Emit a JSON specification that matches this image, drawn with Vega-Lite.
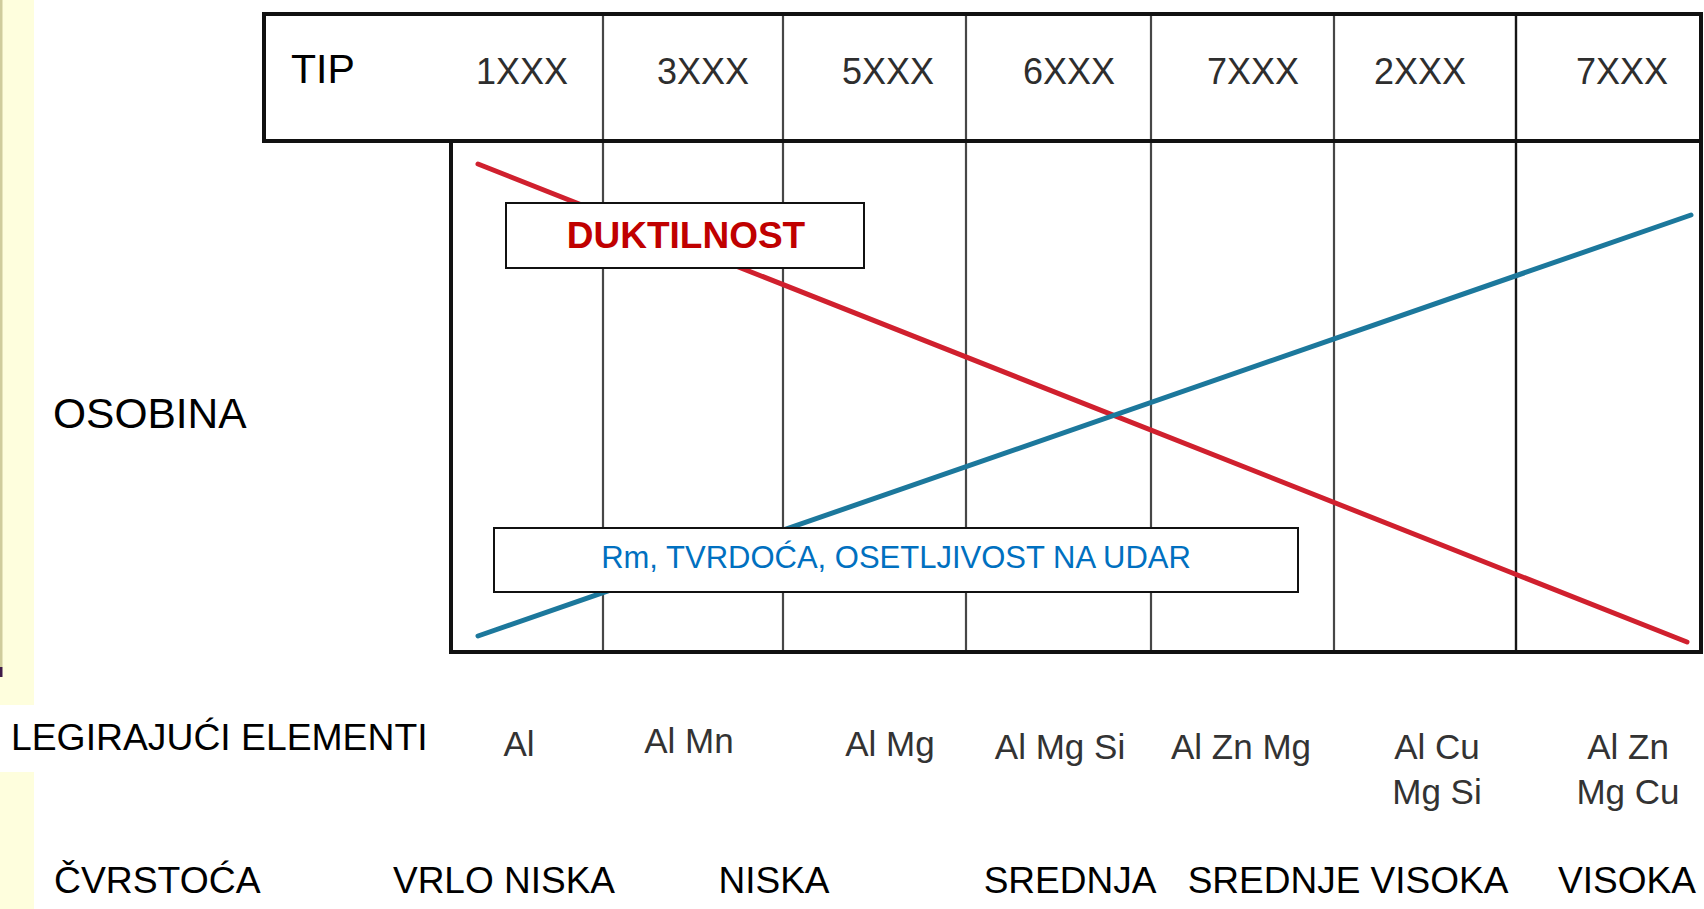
{
  "$schema": "https://vega.github.io/schema/vega-lite/v6.json",
  "width": 1704,
  "height": 909,
  "autosize": {"type": "fit", "contains": "padding"},
  "padding": 0,
  "background": "white",
  "config": {"view": {"stroke": null}},
  "datasets": {
    "strip": [
      {"part": "strip", "x0": 0, "x1": 34, "y0": 0, "y1": 705},
      {"part": "strip", "x0": 0, "x1": 34, "y0": 772, "y1": 909}
    ],
    "edge": [
      {"part": "edge", "x0": 0, "x1": 2.5, "y0": 0, "y1": 667}
    ],
    "mark": [
      {"part": "mark", "x0": 0, "x1": 2.5, "y0": 667, "y1": 677}
    ],
    "frames": [
      {"part": "TIP header", "x0": 264, "x1": 1701, "y0": 14, "y1": 141},
      {"part": "body", "x0": 451, "x1": 1701, "y0": 141, "y1": 652}
    ],
    "dividers": [
      {"x": 603, "y0": 14, "y1": 652},
      {"x": 783, "y0": 14, "y1": 652},
      {"x": 966, "y0": 14, "y1": 652},
      {"x": 1151, "y0": 14, "y1": 652},
      {"x": 1334, "y0": 14, "y1": 652}
    ],
    "lastDivider": [
      {"x": 1516, "y0": 14, "y1": 652}
    ],
    "trends": [
      {"series": "DUKTILNOST", "x": 478, "y": 164},
      {"series": "DUKTILNOST", "x": 1687, "y": 642},
      {"series": "Rm, TVRDOĆA, OSETLJIVOST NA UDAR", "x": 478, "y": 636},
      {"series": "Rm, TVRDOĆA, OSETLJIVOST NA UDAR", "x": 1691, "y": 215}
    ],
    "boxes": [
      {"part": "DUKTILNOST", "x0": 506, "x1": 864, "y0": 203, "y1": 268},
      {"part": "Rm", "x0": 494, "x1": 1298, "y0": 528, "y1": 592}
    ],
    "labels": [
      {"group": "row", "text": "TIP", "x": 291, "y": 71},
      {"group": "side", "text": "OSOBINA", "x": 53, "y": 415},
      {"group": "row2", "text": "LEGIRAJUĆI ELEMENTI", "x": 11, "y": 739},
      {"group": "row3", "text": "ČVRSTOĆA", "x": 54, "y": 882},
      {"group": "type", "text": "1XXX", "x": 522, "y": 73},
      {"group": "type", "text": "3XXX", "x": 703, "y": 73},
      {"group": "type", "text": "5XXX", "x": 888, "y": 73},
      {"group": "type", "text": "6XXX", "x": 1069, "y": 73},
      {"group": "type", "text": "7XXX", "x": 1253, "y": 73},
      {"group": "type", "text": "2XXX", "x": 1420, "y": 73},
      {"group": "type", "text": "7XXX", "x": 1622, "y": 73},
      {"group": "element", "text": "Al", "x": 519, "y": 745},
      {"group": "element", "text": "Al Mn", "x": 689, "y": 742},
      {"group": "element", "text": "Al Mg", "x": 890, "y": 745},
      {"group": "element", "text": "Al Mg Si", "x": 1060, "y": 748},
      {"group": "element", "text": "Al Zn Mg", "x": 1241, "y": 748},
      {"group": "element", "text": "Al Cu", "x": 1437, "y": 748},
      {"group": "element", "text": "Mg Si", "x": 1437, "y": 793},
      {"group": "element", "text": "Al Zn", "x": 1628, "y": 748},
      {"group": "element", "text": "Mg Cu", "x": 1628, "y": 793},
      {"group": "strength", "text": "VRLO NISKA", "x": 504, "y": 882},
      {"group": "strength", "text": "NISKA", "x": 774, "y": 882},
      {"group": "strength", "text": "SREDNJA", "x": 1070, "y": 882},
      {"group": "strength", "text": "SREDNJE VISOKA", "x": 1348, "y": 882},
      {"group": "strength", "text": "VISOKA", "x": 1627, "y": 882},
      {"group": "duct", "text": "DUKTILNOST", "x": 686, "y": 237},
      {"group": "rm", "text": "Rm, TVRDOĆA, OSETLJIVOST NA UDAR", "x": 896, "y": 559}
    ]
  },
  "encoding": {
    "x": {"field": "x0", "type": "quantitative", "scale": {"domain": [0, 1704], "nice": false, "zero": false}, "axis": null},
    "y": {"field": "y0", "type": "quantitative", "scale": {"domain": [0, 909], "nice": false, "zero": false, "reverse": true}, "axis": null}
  },
  "layer": [
    {
      "data": {"name": "strip"},
      "mark": {"type": "rect", "fill": "#FEFEDD"},
      "encoding": {"x2": {"field": "x1"}, "y2": {"field": "y1"}}
    },
    {
      "data": {"name": "edge"},
      "mark": {"type": "rect", "fill": "#CFCC9C"},
      "encoding": {"x2": {"field": "x1"}, "y2": {"field": "y1"}}
    },
    {
      "data": {"name": "mark"},
      "mark": {"type": "rect", "fill": "#3E1A48"},
      "encoding": {"x2": {"field": "x1"}, "y2": {"field": "y1"}}
    },
    {
      "data": {"name": "dividers"},
      "mark": {"type": "rule", "stroke": "#474747", "strokeWidth": 2.2},
      "encoding": {"x": {"field": "x", "type": "quantitative"}, "y2": {"field": "y1"}}
    },
    {
      "data": {"name": "lastDivider"},
      "mark": {"type": "rule", "stroke": "#151515", "strokeWidth": 2.4},
      "encoding": {"x": {"field": "x", "type": "quantitative"}, "y2": {"field": "y1"}}
    },
    {
      "data": {"name": "trends"},
      "mark": {"type": "line", "strokeWidth": 5, "strokeCap": "round"},
      "encoding": {
        "x": {"field": "x", "type": "quantitative"},
        "y": {"field": "y", "type": "quantitative"},
        "color": {"field": "series", "type": "nominal", "scale": {"domain": ["DUKTILNOST", "Rm, TVRDOĆA, OSETLJIVOST NA UDAR"], "range": ["#D0202E", "#1C789C"]}, "legend": null}
      }
    },
    {
      "data": {"name": "frames"},
      "mark": {"type": "rect", "fillOpacity": 0, "stroke": "#111111", "strokeWidth": 4},
      "encoding": {"x2": {"field": "x1"}, "y2": {"field": "y1"}}
    },
    {
      "data": {"name": "boxes"},
      "mark": {"type": "rect", "fill": "white", "stroke": "#111111", "strokeWidth": 2},
      "encoding": {"x2": {"field": "x1"}, "y2": {"field": "y1"}}
    },
    {
      "data": {"name": "labels"},
      "transform": [{"filter": "datum.group === 'row'"}],
      "mark": {"type": "text", "align": "left", "baseline": "middle", "font": "Liberation Sans", "fontSize": 41, "color": "#000000"},
      "encoding": {"x": {"field": "x", "type": "quantitative"}, "y": {"field": "y", "type": "quantitative"}, "text": {"field": "text"}}
    },
    {
      "data": {"name": "labels"},
      "transform": [{"filter": "datum.group === 'side'"}],
      "mark": {"type": "text", "align": "left", "baseline": "middle", "font": "Liberation Sans", "fontSize": 42.5, "color": "#000000"},
      "encoding": {"x": {"field": "x", "type": "quantitative"}, "y": {"field": "y", "type": "quantitative"}, "text": {"field": "text"}}
    },
    {
      "data": {"name": "labels"},
      "transform": [{"filter": "datum.group === 'row2' || datum.group === 'row3'"}],
      "mark": {"type": "text", "align": "left", "baseline": "middle", "font": "Liberation Sans", "fontSize": 37.3, "color": "#000000"},
      "encoding": {"x": {"field": "x", "type": "quantitative"}, "y": {"field": "y", "type": "quantitative"}, "text": {"field": "text"}}
    },
    {
      "data": {"name": "labels"},
      "transform": [{"filter": "datum.group === 'strength'"}],
      "mark": {"type": "text", "align": "center", "baseline": "middle", "font": "Liberation Sans", "fontSize": 37, "color": "#000000"},
      "encoding": {"x": {"field": "x", "type": "quantitative"}, "y": {"field": "y", "type": "quantitative"}, "text": {"field": "text"}}
    },
    {
      "data": {"name": "labels"},
      "transform": [{"filter": "datum.group === 'type'"}],
      "mark": {"type": "text", "align": "center", "baseline": "middle", "font": "Liberation Sans", "fontSize": 36, "color": "#2e2e2e"},
      "encoding": {"x": {"field": "x", "type": "quantitative"}, "y": {"field": "y", "type": "quantitative"}, "text": {"field": "text"}}
    },
    {
      "data": {"name": "labels"},
      "transform": [{"filter": "datum.group === 'element'"}],
      "mark": {"type": "text", "align": "center", "baseline": "middle", "font": "Liberation Sans", "fontSize": 35, "color": "#333333"},
      "encoding": {"x": {"field": "x", "type": "quantitative"}, "y": {"field": "y", "type": "quantitative"}, "text": {"field": "text"}}
    },
    {
      "data": {"name": "labels"},
      "transform": [{"filter": "datum.group === 'duct'"}],
      "mark": {"type": "text", "align": "center", "baseline": "middle", "font": "Liberation Sans", "fontSize": 37, "fontWeight": "bold", "color": "#C00000"},
      "encoding": {"x": {"field": "x", "type": "quantitative"}, "y": {"field": "y", "type": "quantitative"}, "text": {"field": "text"}}
    },
    {
      "data": {"name": "labels"},
      "transform": [{"filter": "datum.group === 'rm'"}],
      "mark": {"type": "text", "align": "center", "baseline": "middle", "font": "Liberation Sans", "fontSize": 31, "color": "#0070C0"},
      "encoding": {"x": {"field": "x", "type": "quantitative"}, "y": {"field": "y", "type": "quantitative"}, "text": {"field": "text"}}
    }
  ]
}
